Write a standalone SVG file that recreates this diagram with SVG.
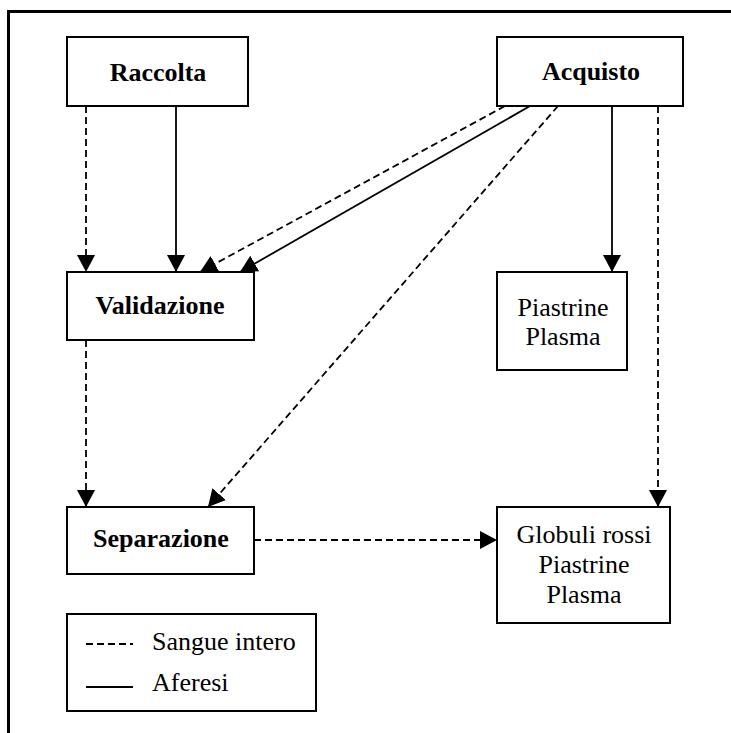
<svg xmlns="http://www.w3.org/2000/svg" width="731" height="733" viewBox="0 0 731 733">
<style>
.box{fill:#fff;stroke:#000;stroke-width:2}
.c{fill:none;stroke:#000;stroke-width:1.8}
.d{stroke-dasharray:7,4}
.t{font-family:"Liberation Serif","Times New Roman",serif;font-size:26px;fill:#000;text-anchor:middle}
.b{font-weight:bold}
.l{font-family:"Liberation Serif","Times New Roman",serif;font-size:26px;fill:#000}
</style>
<defs>
<marker id="ah" markerUnits="userSpaceOnUse" viewBox="0 0 17 18" markerWidth="17" markerHeight="18" refX="17" refY="9" orient="auto">
<path d="M0,0 L17,9 L0,18 z" fill="#000"/>
</marker>
</defs>
<rect x="0" y="0" width="731" height="733" fill="#fff"/>
<rect x="8.5" y="11.5" width="740" height="740" fill="none" stroke="#000" stroke-width="3"/>
<g id="connectors">
<line class="c d" x1="86" y1="106" x2="86" y2="272" marker-end="url(#ah)"/>
<line class="c" x1="176" y1="106" x2="176" y2="272" marker-end="url(#ah)"/>
<line class="c d" x1="505" y1="106" x2="200" y2="272" marker-end="url(#ah)"/>
<line class="c" x1="530" y1="106" x2="240" y2="272" marker-end="url(#ah)"/>
<line class="c d" x1="558" y1="106" x2="208" y2="507" marker-end="url(#ah)"/>
<line class="c" x1="612" y1="106" x2="612" y2="272" marker-end="url(#ah)"/>
<line class="c d" x1="658" y1="106" x2="658" y2="507" marker-end="url(#ah)"/>
<line class="c d" x1="86" y1="340" x2="86" y2="507" marker-end="url(#ah)"/>
<line class="c d" x1="254" y1="540" x2="497" y2="540" marker-end="url(#ah)"/>
</g>
<g id="raccolta">
<rect class="box" x="67" y="37" width="181" height="69"/>
<text class="t b" x="158" y="81">Raccolta</text>
</g>
<g id="acquisto">
<rect class="box" x="497" y="37" width="186" height="69"/>
<text class="t b" x="591" y="80">Acquisto</text>
</g>
<g id="validazione">
<rect class="box" x="67" y="272" width="187" height="68"/>
<text class="t b" x="160" y="314">Validazione</text>
</g>
<g id="piastrine-plasma">
<rect class="box" x="497" y="272" width="130" height="98"/>
<text class="t" x="563" y="316">Piastrine</text>
<text class="t" x="563" y="345">Plasma</text>
</g>
<g id="separazione">
<rect class="box" x="67" y="507" width="187" height="67"/>
<text class="t b" x="161" y="547">Separazione</text>
</g>
<g id="globuli">
<rect class="box" x="497" y="507" width="173" height="116"/>
<text class="t" x="584" y="543">Globuli rossi</text>
<text class="t" x="584" y="573">Piastrine</text>
<text class="t" x="584" y="603">Plasma</text>
</g>
<g id="legend">
<rect class="box" x="67" y="614" width="249" height="97"/>
<line class="c d" x1="86" y1="644" x2="133" y2="644"/>
<line class="c" x1="86" y1="687" x2="133" y2="687"/>
<text class="l" x="152" y="650">Sangue intero</text>
<text class="l" x="152" y="691">Aferesi</text>
</g>
</svg>
